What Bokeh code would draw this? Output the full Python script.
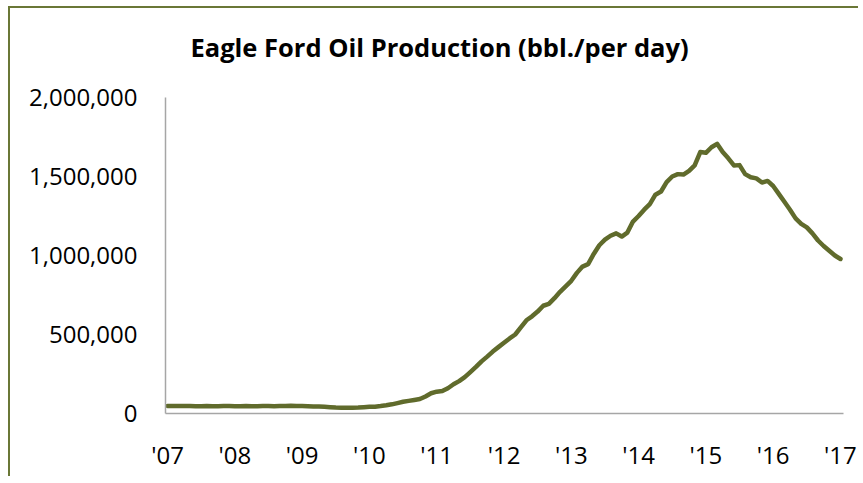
from bokeh.plotting import figure
from bokeh.models import FixedTicker, NumeralTickFormatter, Range1d, Title
from bokeh.embed import file_html
from bokeh.resources import INLINE
import pandas as pd

# Eagle Ford oil production, thousand bbl/day, monthly Jan 2007 .. Jan 2017
production_kbd = [
    48, 47, 48, 48, 47, 46, 46, 47, 46, 46, 47, 47,            # 2007
    46, 46, 47, 46, 46, 47, 47, 46, 47, 48, 49, 48,            # 2008
    47, 46, 45, 44, 42, 40, 38, 37, 37, 37, 38, 40,            # 2009
    42, 43, 47, 52, 58, 66, 74, 80, 86, 92, 108, 128,          # 2010
    138, 142, 160, 185, 205, 230, 262, 295, 330, 360, 392, 420,  # 2011
    448, 475, 500, 545, 590, 615, 645, 682, 694, 730, 770, 805,  # 2012
    840, 890, 930, 945, 1010, 1065, 1100, 1125, 1140, 1120, 1145, 1215,  # 2013
    1250, 1290, 1325, 1385, 1405, 1465, 1500, 1515, 1512, 1535, 1570, 1655,  # 2014
    1650, 1685, 1707, 1655, 1615, 1570, 1572, 1515, 1495, 1488, 1462, 1472,  # 2015
    1440, 1390, 1340, 1290, 1235, 1200, 1178, 1140, 1095, 1060, 1030, 1000,  # 2016
    978,                                                        # 2017
]
months = pd.date_range("2007-01-01", periods=len(production_kbd), freq="MS")
years = list(range(2007, 2018))
year_labels = ["'07", "'08", "'09", "'10", "'11", "'12", "'13", "'14", "'15", "'16", "'17"]
y_ticks = [0, 500000, 1000000, 1500000, 2000000]
title_text = "Eagle Ford Oil Production (bbl./per day)"

x = [d.year + (d.month - 1) / 12 for d in months]
y = [v * 1000 for v in production_kbd]

FONT = "Open Sans"

p = figure(width=850, height=470, output_backend="svg", toolbar_location=None,
           x_range=Range1d(2006.97, 2017.045), y_range=Range1d(0, 2000000),
           min_border_left=155, min_border_right=17, min_border_top=89,
           min_border_bottom=65)

p.styles = {"border-left": "2px solid #6a7736", "border-top": "2px solid #6a7736",
            "margin-left": "8px", "margin-top": "6px"}

# blank spacer between the title and the plot frame
spacer = Title(text=" ", text_font_size="1px", standoff=31)
p.add_layout(spacer, "above")
main_title = Title(text=title_text, text_font=FONT, text_font_style="bold",
                   text_font_size="25.5px", text_color="#000000",
                   align="left", offset=25, standoff=0)
p.add_layout(main_title, "above")

p.line(x, y, line_color="#606b2c", line_width=4.5, line_join="round", line_cap="round")

p.xgrid.visible = False
p.ygrid.visible = False
p.outline_line_color = None
p.background_fill_color = "white"
p.border_fill_color = "white"

for ax in (p.xaxis[0], p.yaxis[0]):
    ax.axis_line_color = "#a6a6a6"
    ax.axis_line_width = 1.5
    ax.major_tick_line_color = None
    ax.minor_tick_line_color = None
    ax.major_tick_out = 0
    ax.major_tick_in = 0
    ax.minor_tick_out = 0
    ax.major_label_text_font = FONT
    ax.major_label_text_font_size = "24px"
    ax.major_label_text_color = "#000000"

p.xaxis.ticker = FixedTicker(ticks=years)
p.xaxis.major_label_overrides = {yr: lab for yr, lab in zip(years, year_labels)}
p.xaxis.major_label_standoff = 24
p.yaxis.ticker = FixedTicker(ticks=y_ticks)
p.yaxis.formatter = NumeralTickFormatter(format="0,0")
p.yaxis.major_label_standoff = 28

open("out.html", "w").write(file_html(p, INLINE))
